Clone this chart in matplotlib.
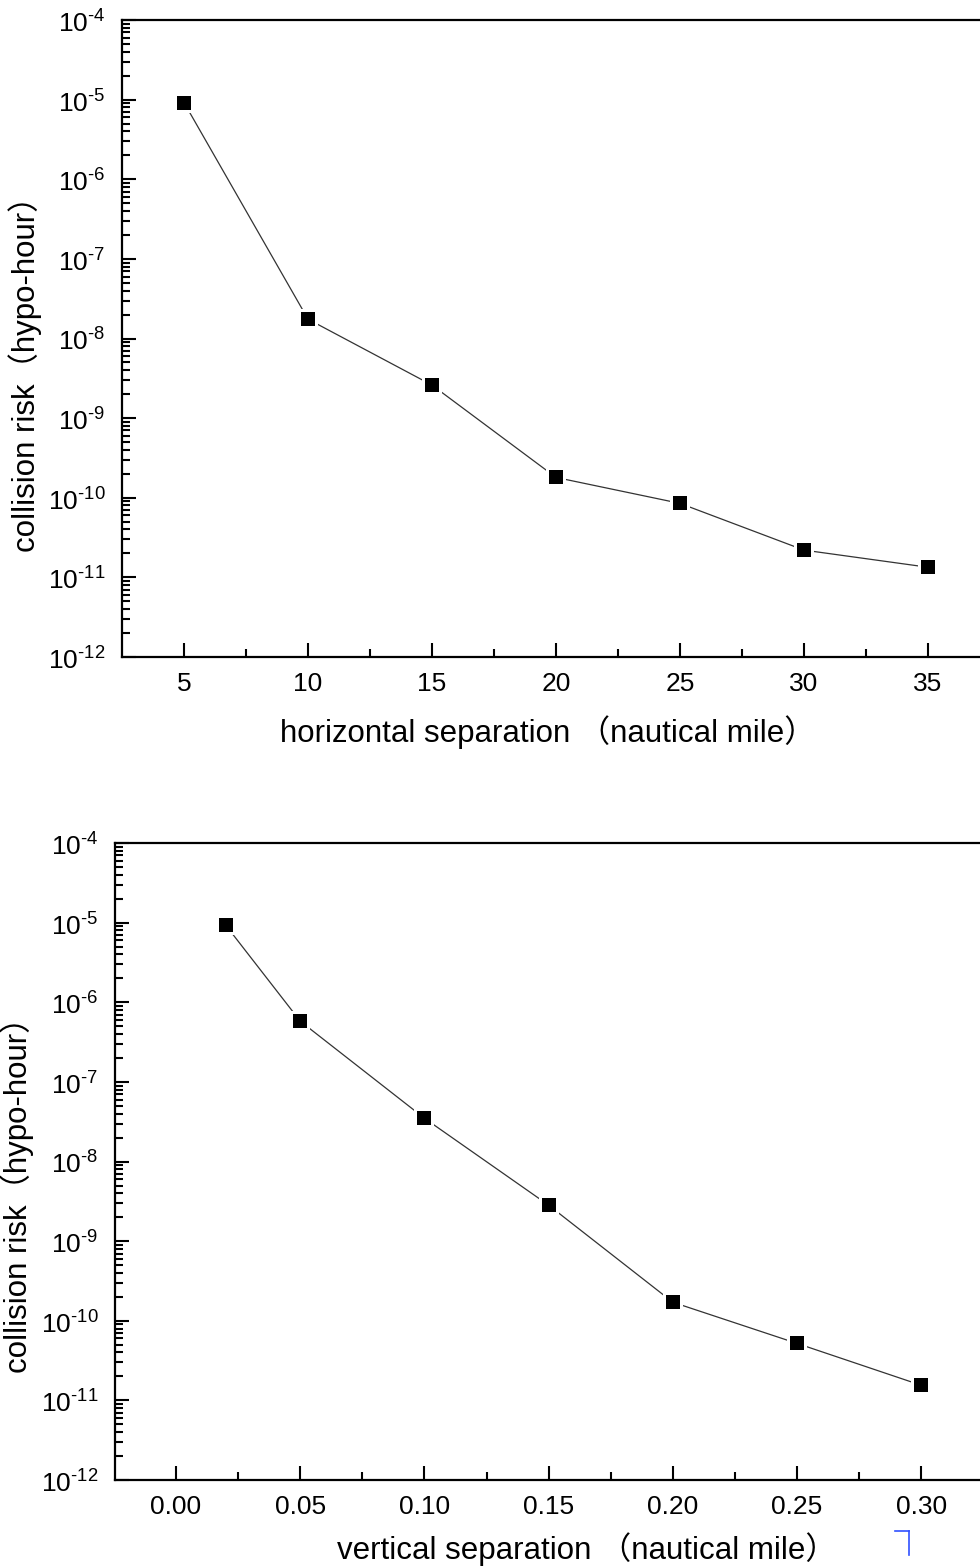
import numpy as np
import matplotlib
matplotlib.use('Agg')
import matplotlib.pyplot as plt
from matplotlib.ticker import FixedLocator, FuncFormatter
from matplotlib.lines import Line2D

plt.rcParams['font.family'] = ['Liberation Sans', 'Noto Sans CJK SC', 'DejaVu Sans']
plt.rcParams['mathtext.fontset'] = 'custom'
plt.rcParams['mathtext.rm'] = 'Liberation Sans'

# horizontal separation (nautical mile) vs collision risk
h_sep = [5, 10, 15, 20, 25, 30, 35]
h_risk = [9.2e-6, 1.75e-8, 2.6e-9, 1.8e-10, 8.5e-11, 2.2e-11, 1.34e-11]

# vertical separation (nautical mile) vs collision risk
v_sep = [0.02, 0.05, 0.10, 0.15, 0.20, 0.25, 0.30]
v_risk = [9.3e-6, 5.8e-7, 3.5e-8, 2.83e-9, 1.71e-10, 5.2e-11, 1.55e-11]

h_ticks = [5, 10, 15, 20, 25, 30, 35]
h_ticklabels = ['5', '10', '15', '20', '25', '30', '35']
v_ticks = [0.00, 0.05, 0.10, 0.15, 0.20, 0.25, 0.30]
v_ticklabels = ['0.00', '0.05', '0.10', '0.15', '0.20', '0.25', '0.30']
y_exponents = [-12, -11, -10, -9, -8, -7, -6, -5, -4]

ylabel = 'collision risk（hypo-hour）'
h_xlabel = 'horizontal separation （nautical mile）'
v_xlabel = 'vertical separation （nautical mile）'

fig = plt.figure(figsize=(9.8, 15.68), dpi=100)
ax1 = fig.add_axes([0.1245, 0.581, 0.949, 0.4062])
ax2 = fig.add_axes([0.1173, 0.0561, 0.9495, 0.4062])

y_major = [10.0 ** e for e in y_exponents]
y_minor = [m * 10.0 ** e for e in y_exponents[:-1] for m in range(2, 10)]


def exp_label(v, pos):
    e = int(round(np.log10(v)))
    return r'$10^{\text{%d}}$' % e


def style_axis(ax, x, y, xlim, ticks, ticklabels, xlabel, xlab_pos, ylab_pos):
    ax.plot(x, y, color='#333333', linewidth=0.9, zorder=2)
    ax.plot(x, y, linestyle='none', marker='s', markersize=14.5,
            color='white', markeredgewidth=0, zorder=3)
    ax.plot(x, y, linestyle='none', marker='s', markersize=9.5,
            color='black', markeredgewidth=0, zorder=4)
    ax.set_yscale('log')
    ax.set_ylim(1e-12, 1e-4)
    ax.set_xlim(*xlim)
    ax.yaxis.set_major_locator(FixedLocator(y_major))
    ax.yaxis.set_minor_locator(FixedLocator(y_minor))
    ax.yaxis.set_major_formatter(FuncFormatter(exp_label))
    ax.yaxis.set_minor_formatter(FuncFormatter(lambda v, p: ''))
    ax.set_xticks(ticks)
    ax.set_xticklabels(ticklabels)
    step = ticks[1] - ticks[0]
    ax.xaxis.set_minor_locator(FixedLocator([t + step / 2 for t in ticks]))
    ax.tick_params(which='major', direction='in', length=10, width=1.5,
                   labelsize=19, pad=11)
    ax.tick_params(which='minor', direction='in', length=5.5, width=1.5)
    ax.tick_params(axis='y', which='major', length=10, labelsize=19, pad=12)
    for s in ['left', 'bottom', 'top']:
        ax.spines[s].set_linewidth(1.6)
    ax.spines['right'].set_visible(False)
    ax.set_xlabel(xlabel, fontsize=22.5, va='center')
    ax.xaxis.set_label_coords(*xlab_pos)
    ax.set_ylabel(ylabel, fontsize=22.5, va='center')
    ax.yaxis.set_label_coords(*ylab_pos)


style_axis(ax1, h_sep, h_risk, (2.5, 40), h_ticks, h_ticklabels,
           h_xlabel, (0.458, -0.118), (-0.104, 0.457))
style_axis(ax2, v_sep, v_risk, (-0.0246, 0.35), v_ticks, v_ticklabels,
           v_xlabel, (0.5075, -0.108), (-0.105, 0.459))

# small blue corner mark at the bottom
fig.add_artist(Line2D([895 / 980, 909 / 980], [1 - 1531 / 1568, 1 - 1531 / 1568],
                      color='#3050ff', linewidth=1.2))
fig.add_artist(Line2D([909 / 980, 909 / 980], [1 - 1531 / 1568, 1 - 1555 / 1568],
                      color='#3050ff', linewidth=1.2))

fig.savefig('out.png', dpi=100)
